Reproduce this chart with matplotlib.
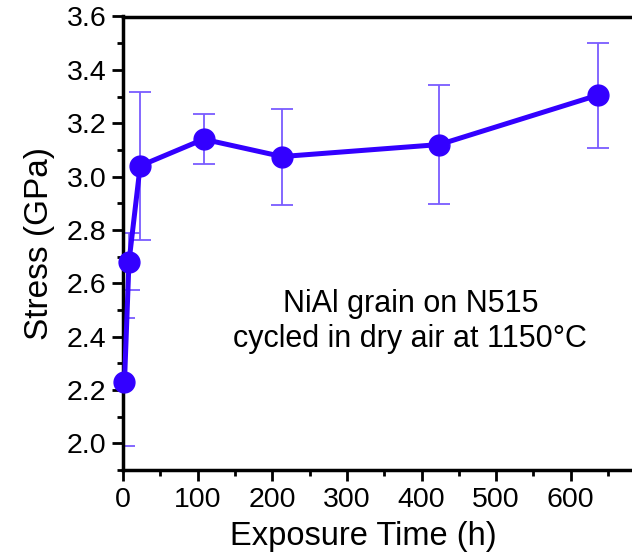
import matplotlib.pyplot as plt
from matplotlib.ticker import MultipleLocator

plt.rcParams['font.family'] = ['Liberation Sans', 'DejaVu Sans']

# exposure times (h) and measured stress (GPa) with error bars
tiempo = [2, 8, 23, 108, 213, 424, 636]
esfuerzo = [2.23, 2.68, 3.04, 3.14, 3.075, 3.12, 3.305]
error = [0.24, 0.107, 0.278, 0.093, 0.18, 0.224, 0.197]

azul = '#3300ff'

fig = plt.figure(figsize=(6.32, 5.58), dpi=100)
ax = fig.add_axes([123 / 632, 88 / 558, 509 / 632, 453.5 / 558])

ax.errorbar(tiempo, esfuerzo, yerr=error, fmt='none', ecolor='#7a5cff',
            elinewidth=1.3, capsize=8, capthick=1.3, zorder=2)
ax.plot(tiempo, esfuerzo, '-o', color=azul, lw=3.6, markersize=15, zorder=3,
        clip_on=False)

ax.set_xlim(0, 682)
ax.set_ylim(1.90, 3.6)

ax.xaxis.set_major_locator(MultipleLocator(100))
ax.xaxis.set_minor_locator(MultipleLocator(50))
ax.yaxis.set_major_locator(MultipleLocator(0.2))
ax.yaxis.set_minor_locator(MultipleLocator(0.1))
ax.yaxis.set_major_formatter(plt.FormatStrFormatter('%.1f'))

ax.tick_params(which='both', direction='out', width=2, top=False, right=False,
               labelsize=20.5, colors='black')
ax.tick_params(which='major', length=8, pad=4)
ax.tick_params(which='minor', length=4)

for lado in ['left', 'bottom', 'top']:
    ax.spines[lado].set_linewidth(2.5)
ax.spines['right'].set_visible(False)

ax.set_xlabel('Exposure Time (h)', fontsize=23.5, x=0.4715, labelpad=6)
ax.set_ylabel('Stress (GPa)', fontsize=24, labelpad=8)

ax.text(385, 2.456, 'NiAl grain on N515\ncycled in dry air at 1150°C',
        ha='center', va='center', fontsize=22, linespacing=1.2)

fig.savefig('out.png', dpi=100)
